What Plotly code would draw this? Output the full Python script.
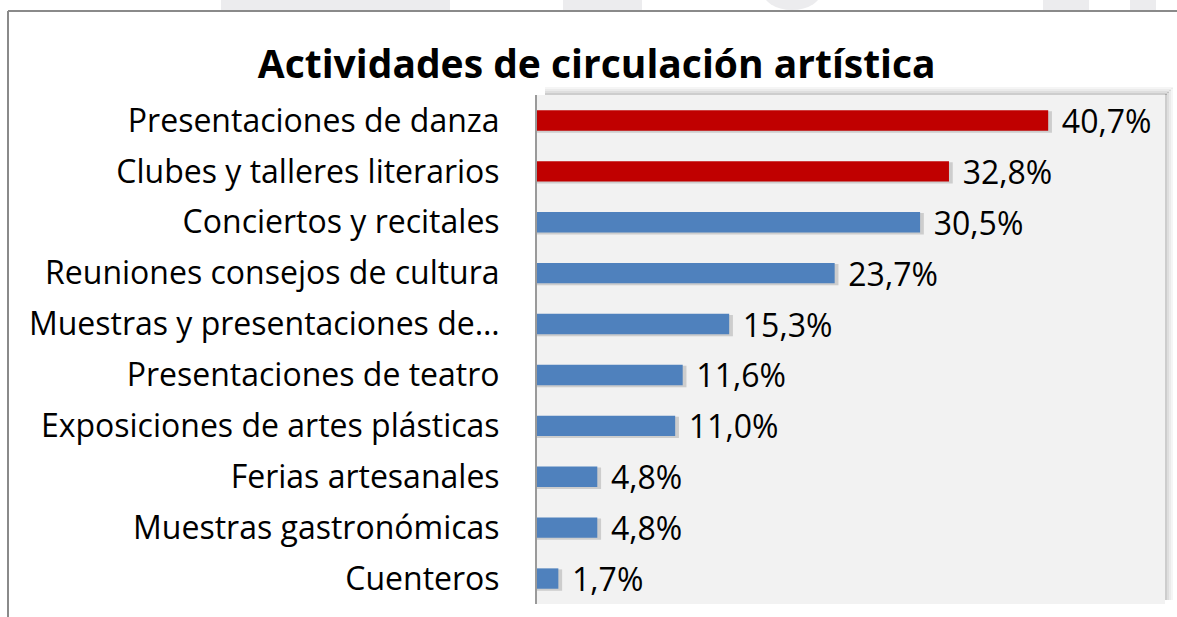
import plotly.graph_objects as go

# Survey results: share of respondents reporting each arts-circulation activity
categories = [
    "Presentaciones de danza",
    "Clubes y talleres literarios",
    "Conciertos y recitales",
    "Reuniones consejos de cultura",
    "Muestras y presentaciones de…",
    "Presentaciones de teatro",
    "Exposiciones de artes plásticas",
    "Ferias artesanales",
    "Muestras gastronómicas",
    "Cuenteros",
]
values = [40.7, 32.8, 30.5, 23.7, 15.3, 11.6, 11.0, 4.8, 4.8, 1.7]
highlighted = [True, True, False, False, False, False, False, False, False, False]

RED = "#c00000"
BLUE = "#4f81bd"
FONT = "Open Sans"

W, H = 1177, 617
ML, MR, MT, MB = 537, 12, 95, 13
PW, PH = W - ML - MR, H - MT - MB


def px(x):
    return (x - ML) / PW


def py(y):
    return (H - MB - y) / PH


labels = ["\u2004" + f"{v:.1f}".replace(".", ",") + "%" for v in values]
colors = [RED if h else BLUE for h in highlighted]

fig = go.Figure()

# soft drop shadow behind each bar
fig.add_trace(go.Bar(
    y=categories, x=[v + 0.3 for v in values], orientation="h",
    marker=dict(color="rgba(110,110,110,0.28)", line=dict(width=0)),
    hoverinfo="skip", showlegend=False, offset=-0.18, width=0.42,
))

fig.add_trace(go.Bar(
    y=categories, x=values, orientation="h",
    marker=dict(color=colors, line=dict(width=0)),
    text=labels, textposition="outside", cliponaxis=False,
    constraintext="none",
    textfont=dict(family=FONT, size=32, color="#000000"),
    showlegend=False, offset=-0.2, width=0.4,
))

shapes = []
# faint watermark band above the chart frame
for x0, x1 in [(221, 450), (563, 642), (1043, 1089), (1130, 1156)]:
    shapes.append(dict(type="rect", xref="paper", yref="paper", layer="below",
                       x0=px(x0), x1=px(x1), y0=py(10), y1=py(0),
                       fillcolor="#ececee", line=dict(width=0)))
shapes.append(dict(type="circle", xref="paper", yref="paper", layer="below",
                   x0=px(762), x1=px(822), y0=py(10), y1=py(-30),
                   fillcolor="#ececee", line=dict(width=0)))
# outer chart frame (left and top edges)
shapes.append(dict(type="line", xref="paper", yref="paper",
                   x0=px(8), x1=px(W + 2), y0=py(11), y1=py(11),
                   line=dict(color="#8a8a8a", width=2)))
shapes.append(dict(type="line", xref="paper", yref="paper",
                   x0=px(8), x1=px(8), y0=py(11), y1=py(H + 2),
                   line=dict(color="#8a8a8a", width=2)))
# shadow along the top and right of the plot area
for i, a in enumerate([0.30, 0.20, 0.12, 0.06]):
    ty = MT - 1 - 2 * i
    shapes.append(dict(type="line", xref="paper", yref="paper",
                       x0=px(ML + 8), x1=px(W - MR + 2 + 2 * i), y0=py(ty), y1=py(ty),
                       line=dict(color=f"rgba(90,90,90,{a})", width=2)))
    rx = W - MR + 1 + 2 * i
    shapes.append(dict(type="line", xref="paper", yref="paper",
                       x0=px(rx), x1=px(rx), y0=py(ty), y1=py(H - MB - 4),
                       line=dict(color=f"rgba(90,90,90,{a})", width=2)))

fig.update_layout(
    width=W, height=H,
    margin=dict(l=ML, r=MR, t=MT, b=MB),
    paper_bgcolor="#ffffff",
    plot_bgcolor="#f2f2f2",
    barmode="overlay",
    shapes=shapes,
    title=dict(text="<b>Actividades de circulación artística</b>",
               x=0.507, xanchor="center", y=0.895, yanchor="middle",
               font=dict(family=FONT, size=39, color="#000000")),
    xaxis=dict(range=[0, 50], showgrid=False, zeroline=False,
               showticklabels=False, fixedrange=True),
    yaxis=dict(autorange="reversed", showgrid=False, zeroline=False,
               showline=True, linecolor="#9a9a9a", linewidth=2,
               ticks="", ticklabelstandoff=29,
               tickfont=dict(family=FONT, size=32, color="#000000")),
)

fig.write_html("out.html")
